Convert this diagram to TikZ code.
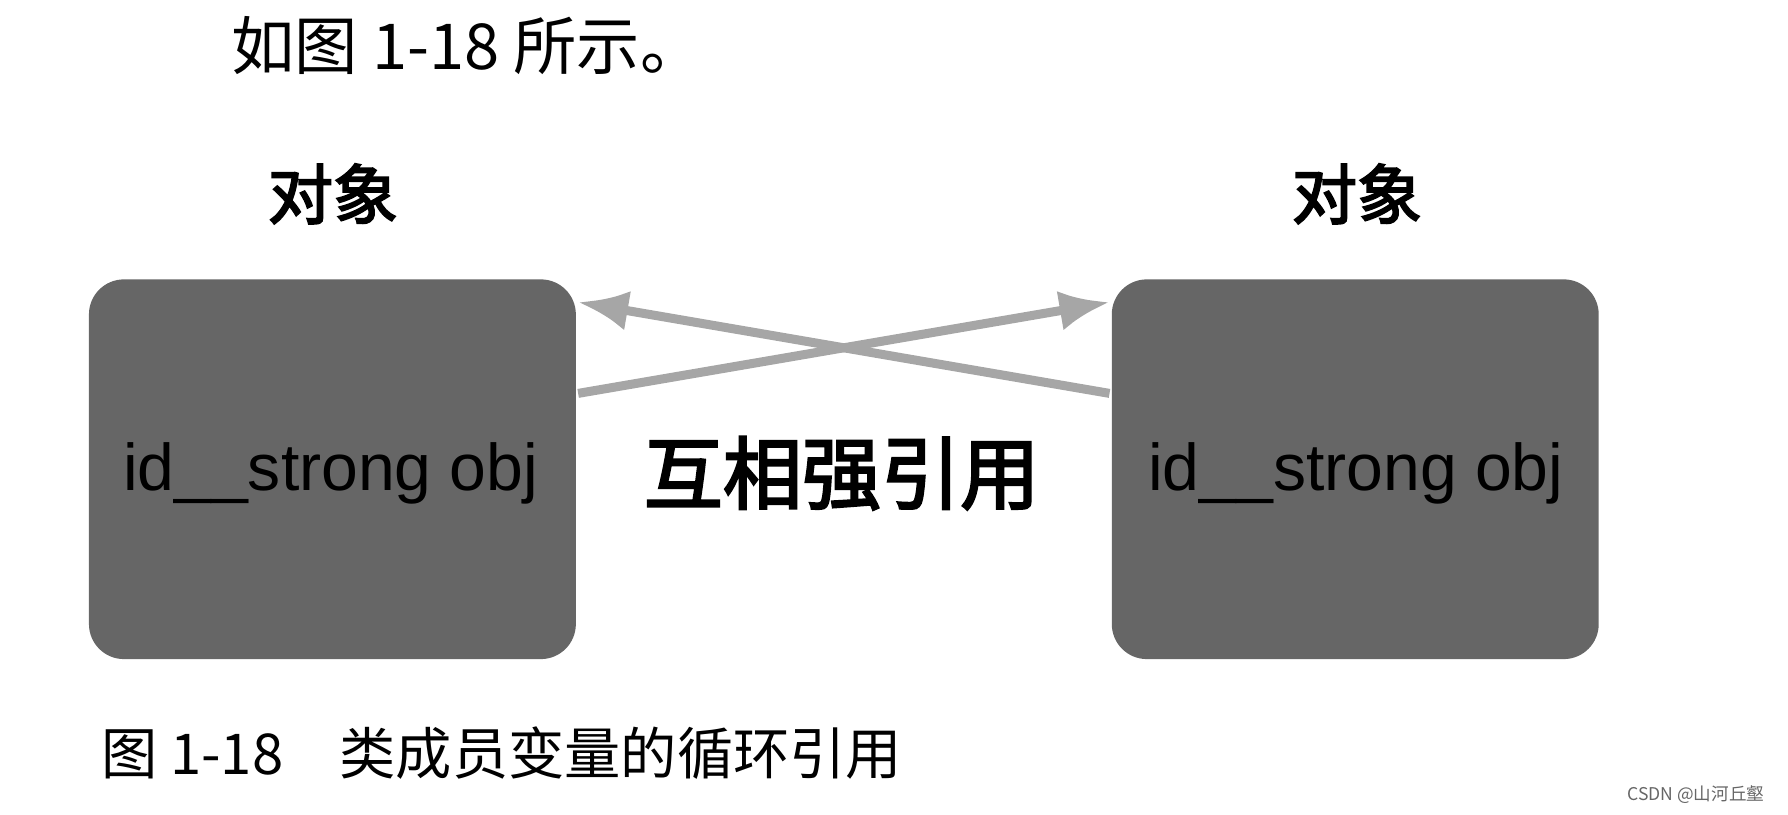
\documentclass[tikz,border=0pt]{standalone}
\usepackage{fontspec}
\usetikzlibrary{arrows.meta}
\setmainfont{Liberation Sans}
\newfontfamily\cjk{Noto Sans CJK SC}
\newfontfamily\cjkb{Noto Sans CJK SC}[FakeBold=3]
\begin{document}
\begin{tikzpicture}[x=0.0114cm,y=-0.0114cm,
  objbox/.style={fill=black!60,rounded corners=0.35cm,draw=none},
  refarrow/.style={draw=black!35,line width=0.09cm,-{Latex[length=0.5cm,width=0.4cm]}},
  lbl/.style={font=\cjkb\fontsize{18.5pt}{21pt}\selectfont}]
\useasboundingbox (0,0) rectangle (1568,714);
\node[anchor=west,font=\cjk\fontsize{18pt}{21pt}\selectfont] (top) at (192,40) {如图 1-18 所示。};
\node[lbl] (t1) at (292,170) {对象};
\node[lbl] (t2) at (1190,170) {对象};
\path[objbox] (78,245) rectangle (505,578);
\path[objbox] (975,245) rectangle (1402,578);
\node[font=\fontsize{18.8pt}{21pt}\selectfont] (a) at (290,415) {id\_\_strong obj};
\node[font=\fontsize{18.8pt}{21pt}\selectfont] (b) at (1189,415) {id\_\_strong obj};
\coordinate (l1) at (507,345); \coordinate (r1) at (973,265);
\coordinate (r2) at (973,345); \coordinate (l2) at (507,265);
\draw[refarrow] (l1) -- (r1);
\draw[refarrow] (r2) -- (l2);
\node[font=\cjkb\fontsize{22.5pt}{25pt}\selectfont] (m) at (738,415) {互相强引用};
\node[anchor=west,font=\cjk\fontsize{16pt}{18pt}\selectfont] (cap) at (78,660) {图 1-18\quad 类成员变量的循环引用};
\node[anchor=east,font=\cjk\fontsize{5pt}{6pt}\selectfont,text=black!60] (w) at (1558,697) {CSDN @山河丘壑};
\end{tikzpicture}
\end{document}
